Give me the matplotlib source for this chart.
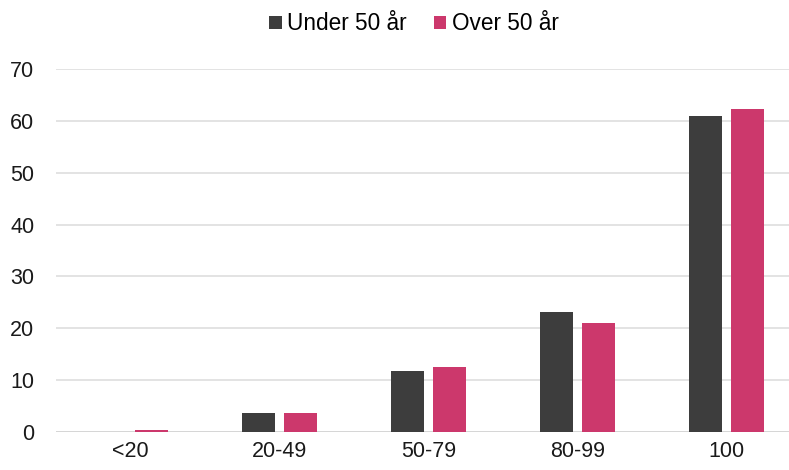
import matplotlib
matplotlib.use("Agg")
import matplotlib.pyplot as plt
import numpy as np

categories = ["<20", "20-49", "50-79", "80-99", "100"]
under_50 = [0.0, 3.7, 11.7, 23.1, 61.0]
over_50 = [0.3, 3.55, 12.45, 21.0, 62.3]
series_names = ["Under 50 år", "Over 50 år"]
y_ticks = [0, 10, 20, 30, 40, 50, 60, 70]

dark = "#3d3d3d"
pink = "#cc386c"

plt.rcParams["font.family"] = ["Liberation Sans", "DejaVu Sans"]

fig = plt.figure(figsize=(7.89, 4.70), dpi=100)
ax = fig.add_axes([56 / 789, 38.3 / 470, 745 / 789, 362.4 / 470])

x = np.arange(len(categories))
width = 0.222
offset = 0.141
ax.bar(x - offset, under_50, width, color=dark, label=series_names[0], zorder=3)
ax.bar(x + offset, over_50, width, color=pink, label=series_names[1], zorder=3)

ax.set_xlim(-0.5, 4.5)
ax.set_ylim(0, 70)
ax.set_yticks(y_ticks)
ax.set_xticks(x)
ax.set_xticklabels(categories)
ax.tick_params(axis="both", length=0, labelsize=15.5, colors="#1a1a1a")
ax.tick_params(axis="x", pad=7)
ax.tick_params(axis="y", pad=15.5)
ax.grid(axis="y", color="#dedede", linewidth=1.2, zorder=0)
for s in ax.spines.values():
    s.set_visible(False)
ax.axhline(0, color="#d6d6d6", linewidth=1.4, zorder=2)

fig.legend(loc="center", bbox_to_anchor=(414 / 789, 1 - 24 / 470), ncol=2,
           frameon=False, fontsize=16.3, handlelength=0.55, handleheight=0.55,
           handletextpad=0.25, columnspacing=1.2)

fig.savefig("out.png", dpi=100)
